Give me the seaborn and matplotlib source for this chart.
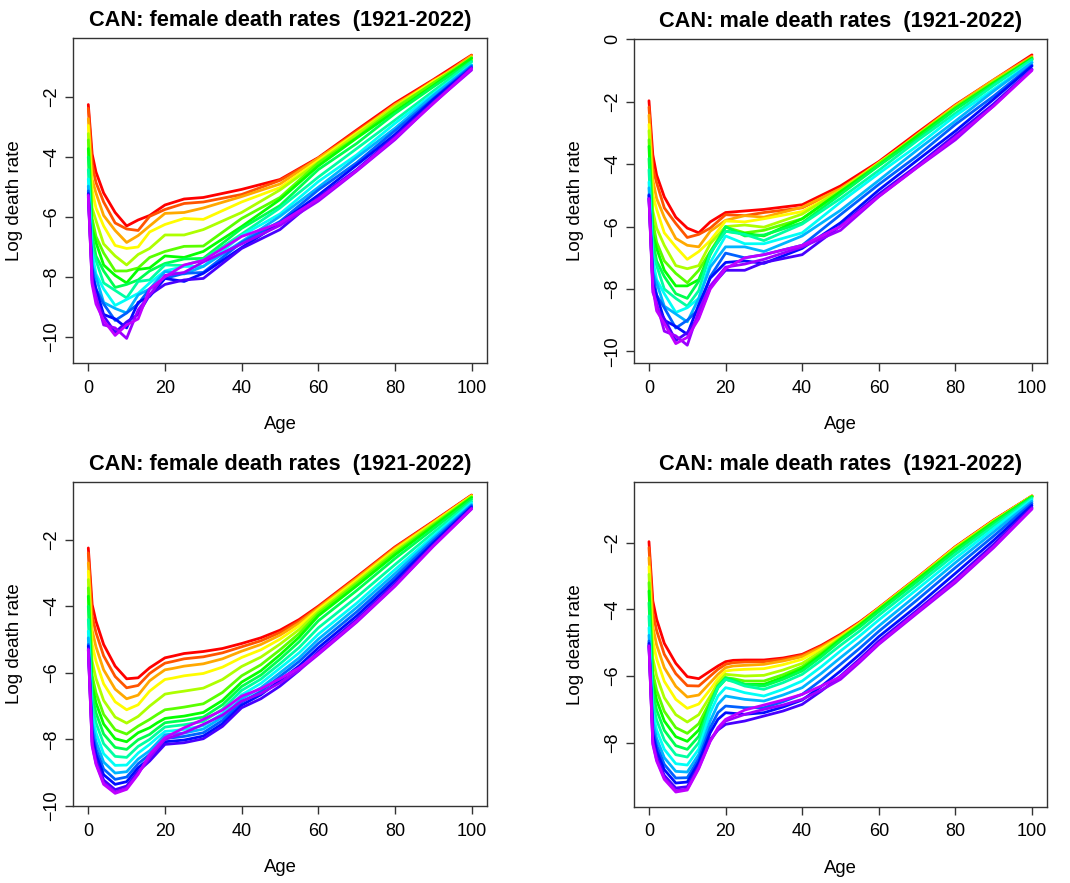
import numpy as np
import pandas as pd
import seaborn as sns
import matplotlib
matplotlib.use("Agg")
import matplotlib.pyplot as plt
from matplotlib.colors import hsv_to_rgb

# Years (rows of every table) and the two age grids (columns)
YEARS = [1921, 1928, 1935, 1942, 1949, 1956, 1963, 1970, 1977, 1984,
         1991, 1998, 2005, 2012, 2019, 2022]
AGES_RAW = [0, 1, 2, 4, 7, 10, 13, 16, 20, 25, 30, 40, 50, 60, 70, 80, 90, 100]
AGES_SMOOTH = [0, 1, 2, 4, 7, 10, 13, 16, 18, 20, 22, 25, 30, 35, 40, 45, 50,
               55, 60, 70, 80, 90, 100]

# Raw observed log death rates (top row)
FEMALE_RAW = [
    [-2.25, -3.9, -4.5, -5.2, -5.85, -6.3, -6.1, -5.95, -5.6, -5.4, -5.35, -5.08, -4.75, -4.02, -3.1, -2.2, -1.42, -0.6],
    [-2.38, -4.25, -4.85, -5.5, -6.2, -6.4, -6.45, -5.98, -5.75, -5.55, -5.5, -5.25, -4.78, -4.05, -3.14, -2.27, -1.44, -0.7],
    [-2.72, -4.75, -5.2, -5.95, -6.45, -6.85, -6.62, -6.3, -5.88, -5.85, -5.7, -5.32, -4.9, -4.04, -3.2, -2.25, -1.5, -0.62],
    [-2.95, -5.1, -5.7, -6.3, -6.95, -7.05, -7.0, -6.5, -6.25, -6.05, -6.08, -5.5, -5.02, -4.12, -3.2, -2.32, -1.47, -0.75],
    [-3.22, -5.7, -6.12, -6.9, -7.3, -7.6, -7.25, -7.05, -6.6, -6.6, -6.42, -5.85, -5.1, -4.18, -3.25, -2.33, -1.55, -0.68],
    [-3.43, -6.05, -6.65, -7.2, -7.8, -7.8, -7.7, -7.35, -7.15, -6.98, -6.97, -6.05, -5.35, -4.2, -3.35, -2.38, -1.53, -0.72],
    [-3.72, -6.4, -6.85, -7.6, -7.95, -8.2, -7.75, -7.7, -7.3, -7.35, -7.15, -6.32, -5.42, -4.3, -3.37, -2.48, -1.62, -0.7],
    [-4.0, -6.6, -7.3, -7.8, -8.35, -8.25, -8.1, -7.8, -7.55, -7.4, -7.38, -6.38, -5.62, -4.42, -3.55, -2.55, -1.66, -0.8],
    [-4.42, -7.05, -7.45, -8.2, -8.45, -8.7, -8.15, -8.1, -7.6, -7.62, -7.42, -6.57, -5.7, -4.67, -3.72, -2.77, -1.8, -0.83],
    [-4.73, -7.2, -7.9, -8.4, -8.95, -8.75, -8.55, -8.2, -7.8, -7.65, -7.65, -6.62, -5.9, -4.82, -3.93, -2.88, -1.9, -0.92],
    [-4.97, -7.6, -8.0, -8.85, -9.05, -9.2, -8.6, -8.4, -7.82, -7.9, -7.65, -6.82, -5.98, -5.01, -4.02, -3.04, -1.95, -0.94],
    [-5.13, -7.7, -8.4, -8.9, -9.45, -9.2, -8.9, -8.4, -8.05, -7.88, -7.85, -6.85, -6.15, -5.1, -4.19, -3.12, -2.05, -0.97],
    [-5.22, -7.95, -8.4, -9.25, -9.4, -9.7, -8.85, -8.65, -8.05, -8.15, -7.88, -7.02, -6.2, -5.27, -4.27, -3.25, -2.08, -1.03],
    [-5.25, -8.1, -8.75, -9.3, -9.85, -9.5, -9.25, -8.6, -8.25, -8.1, -8.05, -7.05, -6.42, -5.35, -4.42, -3.32, -2.18, -1.02],
    [-5.33, -8.2, -8.65, -9.6, -9.7, -10.05, -9.1, -8.6, -7.95, -7.85, -7.5, -6.9, -6.28, -5.47, -4.47, -3.42, -2.2, -1.1],
    [-5.28, -8.25, -8.9, -9.45, -9.95, -9.6, -9.4, -8.4, -8.0, -7.6, -7.45, -6.65, -6.2, -5.4, -4.45, -3.37, -2.22, -1.05],
]

MALE_RAW = [
    [-1.97, -3.7, -4.35, -5.05, -5.7, -6.05, -6.2, -5.85, -5.55, -5.5, -5.45, -5.3, -4.7, -3.92, -3.0, -2.1, -1.3, -0.5],
    [-2.17, -4.12, -4.6, -5.4, -5.9, -6.35, -6.25, -6.05, -5.62, -5.65, -5.55, -5.4, -4.8, -3.95, -3.08, -2.15, -1.35, -0.62],
    [-2.43, -4.5, -5.1, -5.7, -6.38, -6.6, -6.65, -6.15, -5.8, -5.65, -5.7, -5.38, -4.78, -3.99, -3.05, -2.12, -1.3, -0.55],
    [-2.73, -4.98, -5.45, -6.2, -6.65, -7.05, -6.8, -6.45, -5.82, -5.85, -5.75, -5.52, -4.85, -3.96, -3.1, -2.16, -1.38, -0.65],
    [-2.93, -5.5, -6.05, -6.6, -7.25, -7.35, -7.25, -6.55, -6.0, -5.95, -6.02, -5.6, -4.84, -4.01, -3.08, -2.18, -1.35, -0.6],
    [-3.22, -5.85, -6.5, -7.1, -7.5, -7.8, -7.4, -6.8, -6.02, -6.2, -6.12, -5.75, -4.9, -3.98, -3.12, -2.18, -1.38, -0.64],
    [-3.43, -6.25, -6.7, -7.4, -7.9, -7.9, -7.7, -6.82, -6.15, -6.22, -6.3, -5.75, -4.88, -4.04, -3.1, -2.22, -1.4, -0.6],
    [-3.82, -6.45, -7.1, -7.6, -8.15, -8.3, -7.75, -6.9, -6.0, -6.3, -6.27, -5.88, -4.97, -4.05, -3.19, -2.25, -1.44, -0.66],
    [-4.18, -6.85, -7.25, -8.0, -8.3, -8.55, -8.05, -6.85, -6.15, -6.25, -6.45, -5.92, -5.1, -4.2, -3.25, -2.37, -1.48, -0.65],
    [-4.57, -7.05, -7.7, -8.15, -8.75, -8.6, -8.3, -7.15, -6.3, -6.55, -6.55, -6.2, -5.22, -4.3, -3.42, -2.45, -1.6, -0.73],
    [-4.76, -7.45, -7.8, -8.55, -8.8, -9.05, -8.3, -7.3, -6.65, -6.65, -6.8, -6.3, -5.48, -4.52, -3.55, -2.62, -1.66, -0.75],
    [-4.97, -7.5, -8.2, -8.6, -9.25, -9.0, -8.65, -7.6, -6.85, -7.0, -6.9, -6.6, -5.62, -4.65, -3.74, -2.73, -1.82, -0.83],
    [-5.0, -7.85, -8.2, -9.0, -9.2, -9.45, -8.5, -7.65, -7.15, -7.1, -7.18, -6.7, -5.88, -4.83, -3.88, -2.94, -1.92, -0.86],
    [-5.1, -7.85, -8.6, -8.95, -9.65, -9.4, -8.9, -7.95, -7.4, -7.4, -7.15, -6.9, -5.98, -4.96, -4.05, -3.06, -2.07, -0.96],
    [-5.1, -8.1, -8.45, -9.35, -9.5, -9.8, -8.7, -7.9, -7.3, -7.2, -7.05, -6.65, -6.12, -5.04, -4.11, -3.22, -2.13, -0.97],
    [-5.12, -7.95, -8.7, -9.1, -9.75, -9.55, -8.95, -8.0, -7.35, -7.0, -6.9, -6.6, -6.0, -5.03, -4.1, -3.14, -2.14, -1.0],
]

# Smoothed log death rates (bottom row)
FEMALE_SMOOTH = [
    [-2.25, -3.95, -4.45, -5.15, -5.8, -6.18, -6.15, -5.85, -5.7, -5.55, -5.5, -5.42, -5.36, -5.27, -5.12, -4.95, -4.72, -4.4, -4.0, -3.12, -2.22, -1.45, -0.66],
    [-2.4, -4.29, -4.79, -5.49, -6.11, -6.45, -6.38, -6.02, -5.86, -5.71, -5.66, -5.58, -5.52, -5.4, -5.22, -5.04, -4.79, -4.45, -4.03, -3.15, -2.24, -1.47, -0.67],
    [-2.7, -4.72, -5.22, -5.91, -6.49, -6.78, -6.67, -6.24, -6.07, -5.91, -5.87, -5.8, -5.73, -5.58, -5.35, -5.15, -4.87, -4.51, -4.06, -3.17, -2.27, -1.48, -0.68],
    [-2.95, -5.14, -5.65, -6.33, -6.87, -7.11, -6.96, -6.55, -6.37, -6.2, -6.16, -6.09, -6.02, -5.83, -5.54, -5.31, -4.99, -4.59, -4.1, -3.22, -2.3, -1.5, -0.69],
    [-3.2, -5.65, -6.17, -6.83, -7.33, -7.51, -7.31, -7.0, -6.82, -6.64, -6.6, -6.55, -6.46, -6.2, -5.81, -5.53, -5.14, -4.7, -4.16, -3.27, -2.35, -1.53, -0.71],
    [-3.45, -6.08, -6.6, -7.25, -7.71, -7.84, -7.6, -7.4, -7.25, -7.11, -7.08, -7.03, -6.93, -6.59, -6.09, -5.76, -5.31, -4.82, -4.22, -3.32, -2.4, -1.56, -0.72],
    [-3.7, -6.37, -6.9, -7.54, -7.98, -8.07, -7.8, -7.65, -7.5, -7.37, -7.34, -7.3, -7.19, -6.83, -6.28, -5.94, -5.46, -4.93, -4.29, -3.39, -2.46, -1.6, -0.74],
    [-4.0, -6.67, -7.2, -7.84, -8.24, -8.3, -8.01, -7.85, -7.67, -7.5, -7.47, -7.43, -7.33, -6.96, -6.41, -6.07, -5.59, -5.07, -4.44, -3.53, -2.57, -1.68, -0.79],
    [-4.4, -6.97, -7.5, -8.13, -8.51, -8.54, -8.21, -8.0, -7.81, -7.63, -7.6, -7.56, -7.46, -7.09, -6.53, -6.19, -5.73, -5.24, -4.65, -3.73, -2.75, -1.79, -0.85],
    [-4.75, -7.27, -7.8, -8.43, -8.78, -8.77, -8.41, -8.15, -7.95, -7.76, -7.74, -7.7, -7.59, -7.22, -6.66, -6.32, -5.86, -5.4, -4.84, -3.91, -2.9, -1.89, -0.9],
    [-4.95, -7.52, -8.06, -8.68, -9.01, -8.97, -8.59, -8.34, -8.1, -7.86, -7.84, -7.81, -7.69, -7.33, -6.78, -6.45, -6.0, -5.55, -4.99, -4.04, -3.02, -1.96, -0.95],
    [-5.15, -7.73, -8.28, -8.89, -9.2, -9.13, -8.73, -8.45, -8.21, -7.97, -7.95, -7.91, -7.8, -7.43, -6.88, -6.56, -6.11, -5.66, -5.12, -4.17, -3.13, -2.03, -0.98],
    [-5.2, -7.9, -8.45, -9.06, -9.35, -9.27, -8.85, -8.57, -8.32, -8.07, -8.05, -8.02, -7.9, -7.53, -6.97, -6.66, -6.23, -5.79, -5.25, -4.29, -3.23, -2.1, -1.02],
    [-5.27, -8.07, -8.62, -9.22, -9.51, -9.4, -8.96, -8.65, -8.4, -8.15, -8.13, -8.1, -7.98, -7.61, -7.05, -6.78, -6.4, -5.93, -5.36, -4.4, -3.33, -2.16, -1.05],
    [-5.32, -8.16, -8.71, -9.31, -9.58, -9.47, -9.02, -8.55, -8.27, -8.0, -7.92, -7.8, -7.55, -7.27, -6.85, -6.62, -6.3, -5.92, -5.45, -4.48, -3.4, -2.2, -1.08],
    [-5.3, -8.2, -8.75, -9.35, -9.62, -9.5, -9.05, -8.45, -8.2, -7.95, -7.83, -7.65, -7.4, -7.12, -6.7, -6.48, -6.18, -5.85, -5.42, -4.45, -3.38, -2.19, -1.07],
]

MALE_SMOOTH = [
    [-1.97, -3.75, -4.3, -5.02, -5.62, -6.02, -6.08, -5.85, -5.7, -5.57, -5.53, -5.52, -5.52, -5.46, -5.35, -5.08, -4.75, -4.38, -3.95, -3.05, -2.12, -1.32, -0.6],
    [-2.15, -4.09, -4.64, -5.35, -5.93, -6.29, -6.3, -6.0, -5.8, -5.65, -5.6, -5.58, -5.57, -5.5, -5.38, -5.11, -4.78, -4.4, -3.96, -3.06, -2.13, -1.33, -0.6],
    [-2.45, -4.52, -5.07, -5.75, -6.31, -6.63, -6.57, -6.2, -5.95, -5.75, -5.7, -5.68, -5.65, -5.55, -5.42, -5.14, -4.8, -4.41, -3.97, -3.07, -2.14, -1.34, -0.6],
    [-2.72, -4.95, -5.49, -6.16, -6.7, -6.97, -6.84, -6.4, -6.08, -5.85, -5.82, -5.8, -5.78, -5.66, -5.5, -5.19, -4.83, -4.43, -3.98, -3.08, -2.15, -1.35, -0.61],
    [-2.95, -5.47, -6.0, -6.65, -7.16, -7.38, -7.16, -6.6, -6.2, -5.95, -5.97, -6.0, -5.98, -5.82, -5.62, -5.26, -4.86, -4.45, -3.99, -3.09, -2.17, -1.36, -0.61],
    [-3.2, -5.9, -6.43, -7.06, -7.55, -7.72, -7.43, -6.75, -6.3, -6.05, -6.08, -6.15, -6.15, -5.96, -5.72, -5.32, -4.88, -4.46, -4.0, -3.1, -2.19, -1.37, -0.62],
    [-3.45, -6.2, -6.72, -7.35, -7.82, -7.96, -7.62, -6.85, -6.35, -6.1, -6.15, -6.25, -6.25, -6.04, -5.78, -5.36, -4.9, -4.48, -4.02, -3.12, -2.21, -1.39, -0.62],
    [-3.8, -6.5, -7.02, -7.63, -8.09, -8.2, -7.81, -6.85, -6.3, -6.05, -6.12, -6.25, -6.3, -6.1, -5.85, -5.42, -4.95, -4.53, -4.07, -3.17, -2.26, -1.43, -0.64],
    [-4.2, -6.8, -7.32, -7.92, -8.36, -8.43, -8.0, -6.9, -6.35, -6.1, -6.17, -6.3, -6.4, -6.2, -5.95, -5.53, -5.08, -4.65, -4.18, -3.27, -2.35, -1.5, -0.67],
    [-4.55, -7.1, -7.62, -8.2, -8.63, -8.67, -8.19, -7.1, -6.6, -6.35, -6.4, -6.5, -6.6, -6.4, -6.15, -5.72, -5.25, -4.8, -4.32, -3.4, -2.47, -1.58, -0.71],
    [-4.78, -7.36, -7.87, -8.45, -8.86, -8.88, -8.35, -7.35, -6.85, -6.6, -6.64, -6.7, -6.75, -6.57, -6.35, -5.92, -5.45, -4.99, -4.5, -3.56, -2.6, -1.68, -0.76],
    [-4.95, -7.58, -8.08, -8.65, -9.06, -9.05, -8.48, -7.55, -7.1, -6.9, -6.92, -6.95, -6.95, -6.77, -6.55, -6.12, -5.65, -5.17, -4.66, -3.72, -2.75, -1.8, -0.82],
    [-5.02, -7.75, -8.25, -8.81, -9.21, -9.18, -8.59, -7.7, -7.3, -7.1, -7.12, -7.15, -7.1, -6.93, -6.72, -6.31, -5.85, -5.35, -4.82, -3.9, -2.92, -1.93, -0.88],
    [-5.08, -7.92, -8.42, -8.98, -9.36, -9.32, -8.7, -7.9, -7.62, -7.45, -7.41, -7.35, -7.2, -7.05, -6.85, -6.45, -6.0, -5.49, -4.95, -4.03, -3.08, -2.05, -0.94],
    [-5.12, -8.01, -8.51, -9.06, -9.44, -9.39, -8.75, -7.95, -7.6, -7.35, -7.27, -7.15, -7.0, -6.87, -6.7, -6.42, -6.1, -5.59, -5.05, -4.12, -3.2, -2.15, -0.99],
    [-5.1, -8.05, -8.55, -9.1, -9.48, -9.42, -8.78, -7.95, -7.55, -7.3, -7.19, -7.02, -6.87, -6.72, -6.55, -6.3, -6.02, -5.54, -5.02, -4.08, -3.15, -2.12, -0.98],
]

sns.set_theme(style="white")
plt.rcParams["font.family"] = ["Liberation Sans", "DejaVu Sans"]
plt.rcParams.update({"text.color": "black", "axes.labelcolor": "black",
                     "xtick.color": "black", "ytick.color": "black"})

fig = plt.figure(figsize=(10.7, 8.83), dpi=100)

# R-style rainbow: hue runs from red (1921) to purple (2022)
palette = {y: hsv_to_rgb(((y - 1921) / 127.5, 1.0, 1.0)) for y in YEARS}

panels = [
    (FEMALE_RAW, AGES_RAW, "female", [0.0682, 0.5889, 0.3869, 0.3681], (-10.87, -0.03), [-10, -8, -6, -4, -2]),
    (MALE_RAW, AGES_RAW, "male", [0.5922, 0.5889, 0.3866, 0.3670], (-10.37, 0.01), [-10, -8, -6, -4, -2, 0]),
    (FEMALE_SMOOTH, AGES_SMOOTH, "female", [0.0682, 0.0872, 0.3869, 0.3673], (-10.0, -0.26), [-10, -8, -6, -4, -2]),
    (MALE_SMOOTH, AGES_SMOOTH, "male", [0.5922, 0.0864, 0.3866, 0.3674], (-9.92, -0.19), [-8, -6, -4, -2]),
]

for table, ages, sex, rect, ylim, yticks in panels:
    ax = fig.add_axes(rect)
    df = pd.DataFrame(table, index=YEARS, columns=ages)
    df.index.name = "year"
    long = df.reset_index().melt(id_vars="year", var_name="age", value_name="rate")
    sns.lineplot(data=long, x="age", y="rate", hue="year", hue_order=YEARS,
                 palette=palette, estimator=None, legend=False,
                 linewidth=2.0, ax=ax)
    for ln in ax.get_lines():
        ln.set_solid_joinstyle("round")
    ax.set_xlim(-4, 104)
    ax.set_ylim(*ylim)
    ax.set_xticks([0, 20, 40, 60, 80, 100])
    ax.set_yticks(yticks)
    ax.set_title(f"CAN: {sex} death rates  (1921-2022)", fontsize=15.7,
                 fontweight="bold", pad=8.5, color="black")
    ax.set_xlabel("Age", fontsize=13.3, va="center")
    ax.set_ylabel("Log death rate", fontsize=13.5, va="center")
    ax.xaxis.set_label_coords(0.5, -0.19)
    ax.yaxis.set_label_coords(-0.141, 0.5)
    for s in ax.spines.values():
        s.set_color("#333333")
        s.set_linewidth(1.0)
    ax.tick_params(direction="out", length=6, width=1, color="#333333",
                   labelsize=13, labelcolor="black", bottom=True, left=True)
    ax.tick_params(axis="x", pad=6)
    ax.tick_params(axis="y", pad=3)
    for lab in ax.get_yticklabels():
        lab.set_rotation(90)
        lab.set_va("center")

fig.savefig("out.png", dpi=100)
